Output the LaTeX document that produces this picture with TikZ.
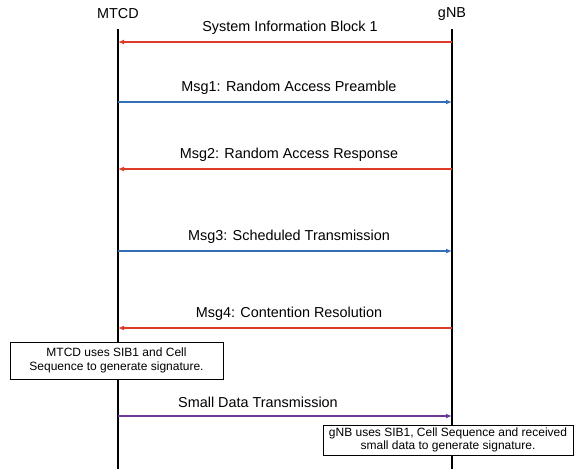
\documentclass[tikz,border=0pt]{standalone}
\usepackage{fontspec}
\setmainfont{Liberation Sans}
\usetikzlibrary{arrows.meta}
\definecolor{msgred}{RGB}{222,58,40}
\definecolor{msgblue}{RGB}{52,110,180}
\definecolor{msgpurple}{RGB}{112,56,150}
\begin{document}
\begin{tikzpicture}[x=1pt,y=-1pt,
  head/.style={font=\fontsize{14.4}{16}\selectfont, inner sep=0pt},
  lbl/.style={font=\fontsize{14.4}{16}\selectfont, inner sep=0pt},
  life/.style={line width=1.2pt, black},
  msg/.style={line width=1.5pt, -{Latex[length=6pt,width=5pt]}},
  note/.style={draw, line width=1pt, fill=white, align=center, font=\fontsize{12}{13.5}\selectfont, inner sep=0pt}
]
\useasboundingbox (0,0) rectangle (574,469);
\node[head] (mtcd) at (118,14) {MTCD};
\node[head] (gnb) at (452,14) {gNB};
\coordinate (mtop) at (118,29); \coordinate (mbot) at (118,469);
\coordinate (gtop) at (452,29); \coordinate (gbot) at (452,469);
\draw[life] (mtop) -- (mbot);
\draw[life] (gtop) -- (gbot);
% message points
\foreach \n/\y in {s/42,a/102,b/169,c/251,d/328,e/416}{
  \coordinate (m\n) at (118,\y);
  \coordinate (g\n) at (452,\y);
}
\draw[msg, msgred] (gs) -- (ms);
\node[lbl] (ls) at (290,28) {System Information Block 1};
\draw[msg, msgblue] (ma) -- (ga);
\node[lbl] (la) at (289,88) {Msg1: Random Access Preamble};
\draw[msg, msgred] (gb) -- (mb);
\node[lbl] (lb) at (289,155) {Msg2: Random Access Response};
\draw[msg, msgblue] (mc) -- (gc);
\node[lbl] (lc) at (289,237) {Msg3: Scheduled Transmission};
\draw[msg, msgred] (gd) -- (md);
\node[lbl] (ld) at (289,314) {Msg4: Contention Resolution};
\node[note, minimum width=213pt, minimum height=37pt] (n1) at (116.5,360.5) {MTCD uses SIB1 and Cell\\Sequence to generate signature.};
\draw[msg, msgpurple] (me) -- (ge);
\node[lbl] (le) at (258,402) {Small Data Transmission};
\node[note, minimum width=250pt, minimum height=30pt] (n2) at (448,440) {gNB uses SIB1, Cell Sequence and received\\small data to generate signature.};
\end{tikzpicture}
\end{document}
